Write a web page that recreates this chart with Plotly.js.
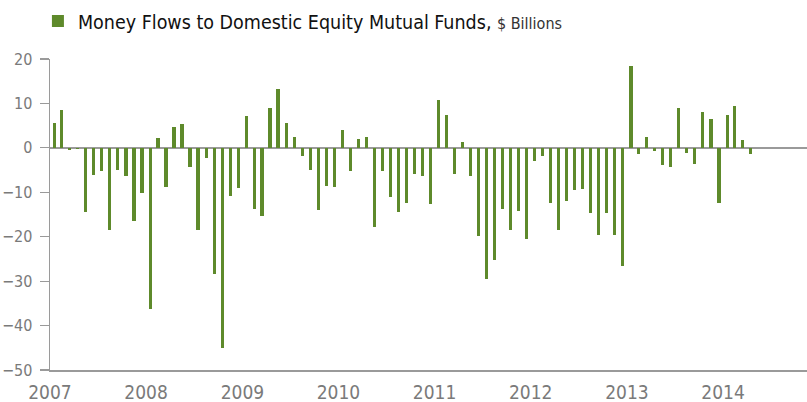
<!DOCTYPE html>
<html>
<head>
<meta charset="utf-8">
<script src="https://cdn.plot.ly/plotly-3.0.1.min.js"></script>
<style>
html,body{margin:0;padding:0;background:#fff;}
#chart{width:807px;height:402px;}
</style>
</head>
<body>
<div id="chart"></div>
<script>
// Monthly net flows, $ billions, Jan 2007 – Apr 2014
const startYear = 2007;
const flows2007 = [5.7, 8.6, -0.5, -0.3, -14.4, -6.0, -5.3, -18.6, -5.0, -6.4, -16.4, -10.2];
const flows2008 = [-36.2, 2.3, -8.9, 4.7, 5.3, -4.4, -18.6, -2.3, -28.3, -45.0, -10.8, -9.0];
const flows2009 = [7.1, -13.8, -15.3, 9.0, 13.2, 5.5, 2.4, -1.8, -5.0, -14.0, -8.6, -8.9];
const flows2010 = [4.1, -5.1, 1.9, 2.4, -17.9, -5.3, -11.0, -14.4, -12.3, -5.9, -6.4, -12.6];
const flows2011 = [10.8, 7.4, -5.9, 1.4, -6.4, -19.9, -29.5, -25.3, -13.8, -18.5, -14.1, -20.6];
const flows2012 = [-2.9, -1.8, -12.5, -18.6, -12.0, -9.5, -9.2, -14.6, -19.7, -14.6, -19.7, -26.7];
const flows2013 = [18.5, -1.4, 2.5, -0.7, -3.8, -4.4, 8.9, -1.2, -3.6, 8.1, 6.4, -12.4];
const flows2014 = [7.4, 9.4, 1.7, -1.4];
const yearTicks = ['2007','2008','2009','2010','2011','2012','2013','2014'];
const seriesName = 'Money Flows to Domestic Equity Mutual Funds,';
const unitLabel = '$ Billions';

const values = [].concat(flows2007, flows2008, flows2009, flows2010, flows2011, flows2012, flows2013, flows2014);
const months = values.map((v, i) => {
  const y = startYear + Math.floor(i / 12);
  const m = (i % 12) + 1;
  return y + '-' + String(m).padStart(2, '0');
});

const FONT = '"Liberation Sans Narrow", "DejaVu Sans Condensed", "Arial Narrow", sans-serif';
const GREEN = '#5e8a2b';
const AXIS = '#9a9a9a';
const LABEL = '#7a7a7a';

const trace = {
  type: 'bar',
  x: months,
  y: values,
  xperiod: 'M1',
  xperiodalignment: 'middle',
  width: 12 * 24 * 3600 * 1000,
  marker: {color: GREEN, line: {width: 0}},
  name: seriesName + ' <span style="font-size:16px;color:#333">' + unitLabel + '</span>',
  showlegend: true,
  hoverinfo: 'x+y'
};

const layout = {
  width: 807,
  height: 402,
  margin: {l: 50, r: 0, t: 59, b: 32, pad: 0},
  paper_bgcolor: '#fff',
  plot_bgcolor: '#fff',
  font: {family: FONT, color: LABEL, size: 18},
  showlegend: true,
  legend: {
    xref: 'container', yref: 'container',
    x: 0.047, y: 0.947,
    xanchor: 'left', yanchor: 'middle',
    orientation: 'h',
    font: {family: FONT, size: 19.5, color: '#111'},
    bgcolor: 'rgba(0,0,0,0)',
    borderwidth: 0
  },
  bargap: 0,
  xaxis: {
    type: 'date',
    range: ['2007-01-01', '2014-11-16'],
    tickvals: yearTicks.map(y => y + '-01-01'),
    ticktext: yearTicks,
    ticks: '',
    showgrid: false,
    showline: true,
    linecolor: AXIS,
    linewidth: 1.5,
    zeroline: false,
    ticklabelstandoff: 5,
    tickfont: {family: FONT, size: 19, color: LABEL},
    fixedrange: true
  },
  yaxis: {
    range: [-50, 20],
    tickvals: [-50, -40, -30, -20, -10, 0, 10, 20],
    ticks: 'outside',
    ticklen: 9,
    tickwidth: 1.2,
    tickcolor: AXIS,
    showgrid: false,
    showline: true,
    linecolor: AXIS,
    linewidth: 1.5,
    zeroline: true,
    zerolinecolor: AXIS,
    zerolinewidth: 1.5,
    ticklabelstandoff: 4,
    tickfont: {family: FONT, size: 16, color: LABEL},
    fixedrange: true
  }
};

Plotly.newPlot('chart', [trace], layout, {displayModeBar: false, staticPlot: true});
</script>
</body>
</html>
